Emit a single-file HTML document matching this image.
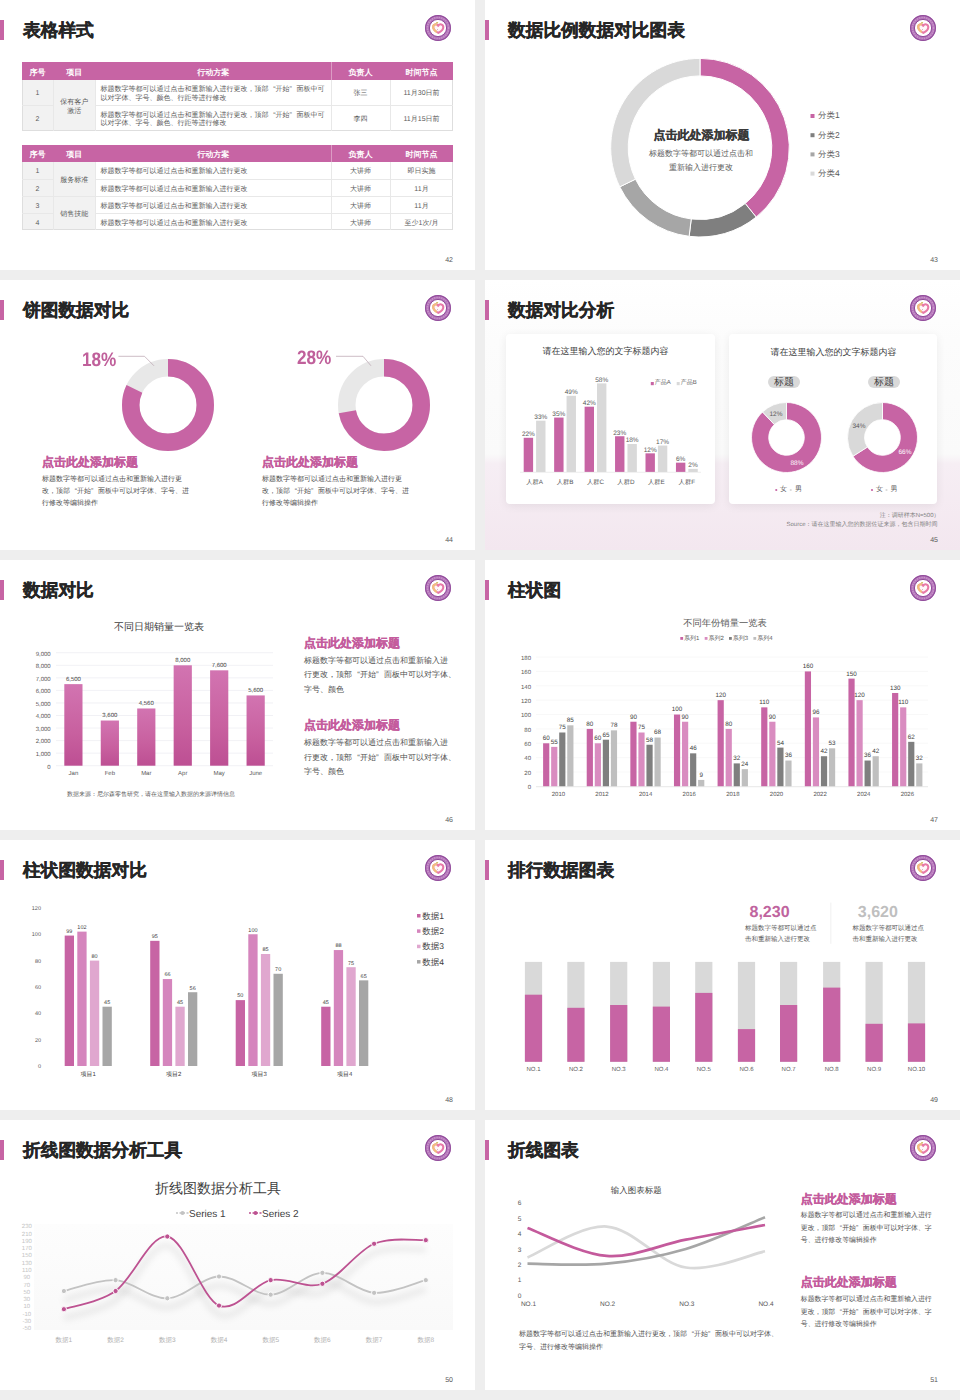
<!DOCTYPE html><html><head><meta charset="utf-8"><style>

*{margin:0;padding:0;box-sizing:border-box}
html,body{width:960px;height:1400px;overflow:hidden;background:#eeeeee;font-family:"Liberation Sans",sans-serif;color:#404040;text-rendering:geometricPrecision}
.s{position:absolute;width:475px;height:270px;background:#fff;overflow:hidden}
.bar{position:absolute;left:0;top:20px;width:4px;height:20px;background:#c764a4}
.tt{position:absolute;left:23px;top:18.2px;font-size:17.7px;line-height:24px;font-weight:bold;color:#262626;white-space:nowrap;-webkit-text-stroke:0.35px #262626}
.logo{position:absolute;left:423.4px;top:12.8px}
.pn{position:absolute;right:22px;top:257px;font-size:7px;line-height:8px;color:#595959}
.a{position:absolute;white-space:nowrap}
svg{position:absolute;left:0;top:0;overflow:visible}
.qo{display:inline-block;width:1em;text-align:right}.qc{display:inline-block;width:1em;text-align:left}

</style></head><body>
<div class="s" style="left:0px;top:0px">
<div class="a" style="left:22px;top:62px;width:431px;height:18px;background:#c764a4"></div><div class="a" style="left:-62.5px;top:67.9px;font-size:8px;color:#fff;line-height:9.6px;width:200px;text-align:center;font-weight:bold;">序号</div><div class="a" style="left:-25.75px;top:67.9px;font-size:8px;color:#fff;line-height:9.6px;width:200px;text-align:center;font-weight:bold;">项目</div><div class="a" style="left:113.25px;top:67.9px;font-size:8px;color:#fff;line-height:9.6px;width:200px;text-align:center;font-weight:bold;">行动方案</div><div class="a" style="left:260.5px;top:67.9px;font-size:8px;color:#fff;line-height:9.6px;width:200px;text-align:center;font-weight:bold;">负责人</div><div class="a" style="left:321.5px;top:67.9px;font-size:8px;color:#fff;line-height:9.6px;width:200px;text-align:center;font-weight:bold;">时间节点</div><div class="a" style="left:330.6px;top:62px;width:0.8px;height:18px;background:#dc9cc4"></div><div class="a" style="left:22px;top:80px;width:73.5px;height:50.5px;background:#f2f2f2"></div><div class="a" style="left:22px;top:80px;width:431px;height:50.5px;border:1px solid #dedede;border-top:none"></div><div class="a" style="left:52.5px;top:80px;width:1px;height:50.5px;background:#e8e8e8"></div><div class="a" style="left:95.0px;top:80px;width:1px;height:50.5px;background:#e8e8e8"></div><div class="a" style="left:330.5px;top:80px;width:1px;height:50.5px;background:#e8e8e8"></div><div class="a" style="left:389.5px;top:80px;width:1px;height:50.5px;background:#e8e8e8"></div><div class="a" style="left:22px;top:104.75px;width:31px;height:1px;background:#e8e8e8"></div><div class="a" style="left:95.5px;top:104.75px;width:357.5px;height:1px;background:#e8e8e8"></div><div class="a" style="left:-25.75px;top:98.6px;font-size:7px;color:#5a5a5a;line-height:8.4px;width:200px;text-align:center;">保有客户</div><div class="a" style="left:-25.75px;top:107.6px;font-size:7px;color:#5a5a5a;line-height:8.4px;width:200px;text-align:center;">激活</div><div class="a" style="left:-62.5px;top:90.475px;font-size:7px;color:#5a5a5a;line-height:8.4px;width:200px;text-align:center;">1</div><div class="a" style="left:100.5px;top:86.32499999999999px;font-size:7px;color:#5a5a5a;line-height:8.4px;width:200px;text-align:center;text-align:left">标题数字等都可以通过点击和重新输入进行更改，顶部<span class="qo">“</span>开始<span class="qc">”</span>面板中可</div><div class="a" style="left:100.5px;top:94.625px;font-size:7px;color:#5a5a5a;line-height:8.4px;width:200px;text-align:center;text-align:left">以对字体、字号、颜色、行距等进行修改</div><div class="a" style="left:260.5px;top:90.475px;font-size:7px;color:#5a5a5a;line-height:8.4px;width:200px;text-align:center;">张三</div><div class="a" style="left:321.5px;top:90.475px;font-size:7px;color:#5a5a5a;line-height:8.4px;width:200px;text-align:center;">11月30日前</div><div class="a" style="left:-62.5px;top:115.725px;font-size:7px;color:#5a5a5a;line-height:8.4px;width:200px;text-align:center;">2</div><div class="a" style="left:100.5px;top:111.57499999999999px;font-size:7px;color:#5a5a5a;line-height:8.4px;width:200px;text-align:center;text-align:left">标题数字等都可以通过点击和重新输入进行更改，顶部<span class="qo">“</span>开始<span class="qc">”</span>面板中可</div><div class="a" style="left:100.5px;top:119.875px;font-size:7px;color:#5a5a5a;line-height:8.4px;width:200px;text-align:center;text-align:left">以对字体、字号、颜色、行距等进行修改</div><div class="a" style="left:260.5px;top:115.725px;font-size:7px;color:#5a5a5a;line-height:8.4px;width:200px;text-align:center;">李四</div><div class="a" style="left:321.5px;top:115.725px;font-size:7px;color:#5a5a5a;line-height:8.4px;width:200px;text-align:center;">11月15日前</div><div class="a" style="left:22px;top:144.5px;width:431px;height:17.5px;background:#c764a4"></div><div class="a" style="left:-62.5px;top:150.15px;font-size:8px;color:#fff;line-height:9.6px;width:200px;text-align:center;font-weight:bold;">序号</div><div class="a" style="left:-25.75px;top:150.15px;font-size:8px;color:#fff;line-height:9.6px;width:200px;text-align:center;font-weight:bold;">项目</div><div class="a" style="left:113.25px;top:150.15px;font-size:8px;color:#fff;line-height:9.6px;width:200px;text-align:center;font-weight:bold;">行动方案</div><div class="a" style="left:260.5px;top:150.15px;font-size:8px;color:#fff;line-height:9.6px;width:200px;text-align:center;font-weight:bold;">负责人</div><div class="a" style="left:321.5px;top:150.15px;font-size:8px;color:#fff;line-height:9.6px;width:200px;text-align:center;font-weight:bold;">时间节点</div><div class="a" style="left:330.6px;top:144.5px;width:0.8px;height:17.5px;background:#dc9cc4"></div><div class="a" style="left:22px;top:162.0px;width:73.5px;height:68.4px;background:#f2f2f2"></div><div class="a" style="left:22px;top:162.0px;width:431px;height:68.4px;border:1px solid #dedede;border-top:none"></div><div class="a" style="left:52.5px;top:162.0px;width:1px;height:68.4px;background:#e8e8e8"></div><div class="a" style="left:95.0px;top:162.0px;width:1px;height:68.4px;background:#e8e8e8"></div><div class="a" style="left:330.5px;top:162.0px;width:1px;height:68.4px;background:#e8e8e8"></div><div class="a" style="left:389.5px;top:162.0px;width:1px;height:68.4px;background:#e8e8e8"></div><div class="a" style="left:22px;top:178.6px;width:31px;height:1px;background:#e8e8e8"></div><div class="a" style="left:95.5px;top:178.6px;width:357.5px;height:1px;background:#e8e8e8"></div><div class="a" style="left:22px;top:195.7px;width:31px;height:1px;background:#e8e8e8"></div><div class="a" style="left:95.5px;top:195.7px;width:357.5px;height:1px;background:#e8e8e8"></div><div class="a" style="left:22px;top:212.79999999999998px;width:31px;height:1px;background:#e8e8e8"></div><div class="a" style="left:95.5px;top:212.79999999999998px;width:357.5px;height:1px;background:#e8e8e8"></div><div class="a" style="left:-25.75px;top:176.95px;font-size:7px;color:#5a5a5a;line-height:8.4px;width:200px;text-align:center;">服务标准</div><div class="a" style="left:53px;top:195.7px;width:42.5px;height:1px;background:#e8e8e8"></div><div class="a" style="left:-25.75px;top:211.14999999999998px;font-size:7px;color:#5a5a5a;line-height:8.4px;width:200px;text-align:center;">销售技能</div><div class="a" style="left:-62.5px;top:168.4px;font-size:7px;color:#5a5a5a;line-height:8.4px;width:200px;text-align:center;">1</div><div class="a" style="left:100.5px;top:168.4px;font-size:7px;color:#5a5a5a;line-height:8.4px;width:200px;text-align:center;text-align:left">标题数字等都可以通过点击和重新输入进行更改</div><div class="a" style="left:260.5px;top:168.4px;font-size:7px;color:#5a5a5a;line-height:8.4px;width:200px;text-align:center;">大讲师</div><div class="a" style="left:321.5px;top:168.4px;font-size:7px;color:#5a5a5a;line-height:8.4px;width:200px;text-align:center;">即日实施</div><div class="a" style="left:-62.5px;top:185.49999999999997px;font-size:7px;color:#5a5a5a;line-height:8.4px;width:200px;text-align:center;">2</div><div class="a" style="left:100.5px;top:185.49999999999997px;font-size:7px;color:#5a5a5a;line-height:8.4px;width:200px;text-align:center;text-align:left">标题数字等都可以通过点击和重新输入进行更改</div><div class="a" style="left:260.5px;top:185.49999999999997px;font-size:7px;color:#5a5a5a;line-height:8.4px;width:200px;text-align:center;">大讲师</div><div class="a" style="left:321.5px;top:185.49999999999997px;font-size:7px;color:#5a5a5a;line-height:8.4px;width:200px;text-align:center;">11月</div><div class="a" style="left:-62.5px;top:202.6px;font-size:7px;color:#5a5a5a;line-height:8.4px;width:200px;text-align:center;">3</div><div class="a" style="left:100.5px;top:202.6px;font-size:7px;color:#5a5a5a;line-height:8.4px;width:200px;text-align:center;text-align:left">标题数字等都可以通过点击和重新输入进行更改</div><div class="a" style="left:260.5px;top:202.6px;font-size:7px;color:#5a5a5a;line-height:8.4px;width:200px;text-align:center;">大讲师</div><div class="a" style="left:321.5px;top:202.6px;font-size:7px;color:#5a5a5a;line-height:8.4px;width:200px;text-align:center;">11月</div><div class="a" style="left:-62.5px;top:219.69999999999996px;font-size:7px;color:#5a5a5a;line-height:8.4px;width:200px;text-align:center;">4</div><div class="a" style="left:100.5px;top:219.69999999999996px;font-size:7px;color:#5a5a5a;line-height:8.4px;width:200px;text-align:center;text-align:left">标题数字等都可以通过点击和重新输入进行更改</div><div class="a" style="left:260.5px;top:219.69999999999996px;font-size:7px;color:#5a5a5a;line-height:8.4px;width:200px;text-align:center;">大讲师</div><div class="a" style="left:321.5px;top:219.69999999999996px;font-size:7px;color:#5a5a5a;line-height:8.4px;width:200px;text-align:center;">至少1次/月</div>
<div class="bar"></div>
<div class="tt">表格样式</div>
<svg class="logo" width="30" height="30" viewBox="-15 -15 30 30">
<defs><clipPath id="lc1"><rect x="-8" y="-8" width="6.8" height="16"/></clipPath></defs>
<circle r="12.9" fill="#b274b8"/>
<circle r="12.4" fill="none" stroke="#914c9b" stroke-width="1.1"/>
<circle r="10.6" fill="none" stroke="#dcaad8" stroke-width="1.5" stroke-dasharray="1.3 1.1" opacity="0.6"/>
<circle r="8.5" fill="#fff"/>
<circle r="8.6" fill="none" stroke="#914c9b" stroke-width="1"/>
<path d="M0.2,-2.2 C-1.3,-4.6 -5,-4 -4.8,-0.8 C-4.6,1.9 -1.9,3.7 0.4,4.9 C2.6,3.7 5.3,1.8 5.3,-0.8 C5.3,-4 1.6,-4.6 0.2,-2.2 Z" fill="#fff4f8" stroke="#e87aa8" stroke-width="2.1" stroke-linejoin="round"/>
<path d="M0.2,-2.2 C-1.3,-4.6 -5,-4 -4.8,-0.8 C-4.6,1.9 -1.9,3.7 0.4,4.9" fill="none" stroke="#f2c07e" stroke-width="2.1" clip-path="url(#lc1)"/>
<path d="M-2.4,0.2 C-1.2,1.8 1.4,1.6 2.6,-0.6" fill="none" stroke="#fff" stroke-width="0.9" stroke-linecap="round"/>
<circle cx="-0.6" cy="1.6" r="0.45" fill="#9a5070"/>
<ellipse cx="-0.9" cy="-5.3" rx="1.1" ry="0.8" fill="#cdbf5c"/>
</svg>
<div class="pn">42</div>
</div>
<div class="s" style="left:485px;top:0px">
<svg width="475" height="270"><path d="M215.00,58.40 A89.3,89.3 0 0 1 271.20,217.10 L260.19,203.50 A71.8,71.8 0 0 0 215.00,75.90 Z" fill="#c764a4" stroke="#fff" stroke-width="1"/><path d="M271.20,217.10 A89.3,89.3 0 0 1 204.12,236.33 L206.25,218.96 A71.8,71.8 0 0 0 260.19,203.50 Z" fill="#7f7f7f" stroke="#fff" stroke-width="1"/><path d="M204.12,236.33 A89.3,89.3 0 0 1 134.74,186.85 L150.47,179.18 A71.8,71.8 0 0 0 206.25,218.96 Z" fill="#a6a6a6" stroke="#fff" stroke-width="1"/><path d="M134.74,186.85 A89.3,89.3 0 0 1 215.00,58.40 L215.00,75.90 A71.8,71.8 0 0 0 150.47,179.18 Z" fill="#d9d9d9" stroke="#fff" stroke-width="1"/><rect x="325.5" y="114.0" width="4" height="4" fill="#c764a4"/><rect x="325.5" y="133.2" width="4" height="4" fill="#7f7f7f"/><rect x="325.5" y="152.4" width="4" height="4" fill="#a6a6a6"/><rect x="325.5" y="171.6" width="4" height="4" fill="#d9d9d9"/></svg><div class="a" style="left:333px;top:110.4px;font-size:8.5px;color:#595959;line-height:10.2px;">分类1</div><div class="a" style="left:333px;top:129.6px;font-size:8.5px;color:#595959;line-height:10.2px;">分类2</div><div class="a" style="left:333px;top:148.8px;font-size:8.5px;color:#595959;line-height:10.2px;">分类3</div><div class="a" style="left:333px;top:168.0px;font-size:8.5px;color:#595959;line-height:10.2px;">分类4</div><div class="a" style="left:116.5px;top:128.1px;font-size:12px;color:#3a3a3a;line-height:14.399999999999999px;width:200px;text-align:center;font-weight:bold;-webkit-text-stroke:0.25px #3a3a3a">点击此处添加标题</div><div class="a" style="left:116.0px;top:148.9px;font-size:8px;color:#595959;line-height:9.6px;width:200px;text-align:center;">标题数字等都可以通过点击和</div><div class="a" style="left:116.0px;top:162.9px;font-size:8px;color:#595959;line-height:9.6px;width:200px;text-align:center;">重新输入进行更改</div>
<div class="bar"></div>
<div class="tt">数据比例数据对比图表</div>
<svg class="logo" width="30" height="30" viewBox="-15 -15 30 30">
<defs><clipPath id="lc2"><rect x="-8" y="-8" width="6.8" height="16"/></clipPath></defs>
<circle r="12.9" fill="#b274b8"/>
<circle r="12.4" fill="none" stroke="#914c9b" stroke-width="1.1"/>
<circle r="10.6" fill="none" stroke="#dcaad8" stroke-width="1.5" stroke-dasharray="1.3 1.1" opacity="0.6"/>
<circle r="8.5" fill="#fff"/>
<circle r="8.6" fill="none" stroke="#914c9b" stroke-width="1"/>
<path d="M0.2,-2.2 C-1.3,-4.6 -5,-4 -4.8,-0.8 C-4.6,1.9 -1.9,3.7 0.4,4.9 C2.6,3.7 5.3,1.8 5.3,-0.8 C5.3,-4 1.6,-4.6 0.2,-2.2 Z" fill="#fff4f8" stroke="#e87aa8" stroke-width="2.1" stroke-linejoin="round"/>
<path d="M0.2,-2.2 C-1.3,-4.6 -5,-4 -4.8,-0.8 C-4.6,1.9 -1.9,3.7 0.4,4.9" fill="none" stroke="#f2c07e" stroke-width="2.1" clip-path="url(#lc2)"/>
<path d="M-2.4,0.2 C-1.2,1.8 1.4,1.6 2.6,-0.6" fill="none" stroke="#fff" stroke-width="0.9" stroke-linecap="round"/>
<circle cx="-0.6" cy="1.6" r="0.45" fill="#9a5070"/>
<ellipse cx="-0.9" cy="-5.3" rx="1.1" ry="0.8" fill="#cdbf5c"/>
</svg>
<div class="pn">43</div>
</div>
<div class="s" style="left:0px;top:280px">
<svg width="475" height="270"><circle cx="168" cy="125" r="37.25" fill="none" stroke="#e8e8e8" stroke-width="17.5"/><circle cx="168" cy="125" r="37.25" fill="none" stroke="#c764a4" stroke-width="17.5" stroke-dasharray="191.92 234.05" transform="rotate(-90 168 125)"/><circle cx="384" cy="125" r="37.25" fill="none" stroke="#e8e8e8" stroke-width="17.5"/><circle cx="384" cy="125" r="37.25" fill="none" stroke="#c764a4" stroke-width="17.5" stroke-dasharray="168.52 234.05" transform="rotate(-90 384 125)"/><polyline points="118.4,76.3 144.5,76.3 154,85.8" fill="none" stroke="#b8a0ae" stroke-width="0.7"/><polyline points="336,76.3 363,76.3 371,85.8" fill="none" stroke="#b8a0ae" stroke-width="0.7"/></svg><div class="a" style="left:82px;top:69.3px;font-size:19.5px;color:#c0609b;line-height:22px;font-weight:bold;transform:scaleX(0.88);transform-origin:0 0">18%</div><div class="a" style="left:296.5px;top:66.5px;font-size:19.5px;color:#c0609b;line-height:22px;font-weight:bold;transform:scaleX(0.88);transform-origin:0 0">28%</div><div class="a" style="left:42px;top:175px;font-size:12px;color:#c45c9d;line-height:14px;font-weight:bold;-webkit-text-stroke:0.3px #c45c9d">点击此处添加标题</div><div class="a" style="left:42px;top:194px;font-size:7px;color:#4f4f4f;line-height:12px;">标题数字等都可以通过点击和重新输入进行更</div><div class="a" style="left:42px;top:206px;font-size:7px;color:#4f4f4f;line-height:12px;">改，顶部<span class="qo">“</span>开始<span class="qc">”</span>面板中可以对字体、字号、进</div><div class="a" style="left:42px;top:218px;font-size:7px;color:#4f4f4f;line-height:12px;">行修改等编辑操作</div><div class="a" style="left:262px;top:175px;font-size:12px;color:#c45c9d;line-height:14px;font-weight:bold;-webkit-text-stroke:0.3px #c45c9d">点击此处添加标题</div><div class="a" style="left:262px;top:194px;font-size:7px;color:#4f4f4f;line-height:12px;">标题数字等都可以通过点击和重新输入进行更</div><div class="a" style="left:262px;top:206px;font-size:7px;color:#4f4f4f;line-height:12px;">改，顶部<span class="qo">“</span>开始<span class="qc">”</span>面板中可以对字体、字号、进</div><div class="a" style="left:262px;top:218px;font-size:7px;color:#4f4f4f;line-height:12px;">行修改等编辑操作</div>
<div class="bar"></div>
<div class="tt">饼图数据对比</div>
<svg class="logo" width="30" height="30" viewBox="-15 -15 30 30">
<defs><clipPath id="lc3"><rect x="-8" y="-8" width="6.8" height="16"/></clipPath></defs>
<circle r="12.9" fill="#b274b8"/>
<circle r="12.4" fill="none" stroke="#914c9b" stroke-width="1.1"/>
<circle r="10.6" fill="none" stroke="#dcaad8" stroke-width="1.5" stroke-dasharray="1.3 1.1" opacity="0.6"/>
<circle r="8.5" fill="#fff"/>
<circle r="8.6" fill="none" stroke="#914c9b" stroke-width="1"/>
<path d="M0.2,-2.2 C-1.3,-4.6 -5,-4 -4.8,-0.8 C-4.6,1.9 -1.9,3.7 0.4,4.9 C2.6,3.7 5.3,1.8 5.3,-0.8 C5.3,-4 1.6,-4.6 0.2,-2.2 Z" fill="#fff4f8" stroke="#e87aa8" stroke-width="2.1" stroke-linejoin="round"/>
<path d="M0.2,-2.2 C-1.3,-4.6 -5,-4 -4.8,-0.8 C-4.6,1.9 -1.9,3.7 0.4,4.9" fill="none" stroke="#f2c07e" stroke-width="2.1" clip-path="url(#lc3)"/>
<path d="M-2.4,0.2 C-1.2,1.8 1.4,1.6 2.6,-0.6" fill="none" stroke="#fff" stroke-width="0.9" stroke-linecap="round"/>
<circle cx="-0.6" cy="1.6" r="0.45" fill="#9a5070"/>
<ellipse cx="-0.9" cy="-5.3" rx="1.1" ry="0.8" fill="#cdbf5c"/>
</svg>
<div class="pn">44</div>
</div>
<div class="s" style="left:485px;top:280px">
<div class="a" style="left:0;top:0;width:475px;height:270px;background:linear-gradient(180deg,#fff 0px,#fcfcfc 60px,#fafafa 174px,#f6eef4 184px,#f3e7ef 270px)"></div><div class="a" style="left:20.8px;top:54.4px;width:209.6px;height:170.1px;background:#fff;border-radius:4px;box-shadow:0 2px 10px rgba(0,0,0,0.07)"></div><div class="a" style="left:243.8px;top:53.8px;width:208.7px;height:170.0px;background:#fff;border-radius:4px;box-shadow:0 2px 10px rgba(0,0,0,0.07)"></div><svg width="475" height="270"><rect x="38.70" y="157.79" width="9.4" height="34.21" fill="#c764a4"/><rect x="51.10" y="140.69" width="9.4" height="51.31" fill="#d9d9d9"/><rect x="69.15" y="137.57" width="9.4" height="54.42" fill="#c764a4"/><rect x="81.55" y="115.81" width="9.4" height="76.19" fill="#d9d9d9"/><rect x="99.60" y="126.69" width="9.4" height="65.31" fill="#c764a4"/><rect x="112.00" y="103.37" width="9.4" height="88.63" fill="#d9d9d9"/><rect x="130.05" y="156.24" width="9.4" height="35.77" fill="#c764a4"/><rect x="142.45" y="164.01" width="9.4" height="27.99" fill="#d9d9d9"/><rect x="160.50" y="173.34" width="9.4" height="18.66" fill="#c764a4"/><rect x="172.90" y="165.56" width="9.4" height="26.43" fill="#d9d9d9"/><rect x="190.95" y="182.67" width="9.4" height="9.33" fill="#c764a4"/><rect x="203.35" y="188.89" width="9.4" height="3.11" fill="#d9d9d9"/><line x1="35" y1="192.3" x2="216" y2="192.3" stroke="#e6e6e6" stroke-width="0.7"/><rect x="165.8" y="102" width="3" height="3.2" fill="#c764a4"/><rect x="191.7" y="102" width="3" height="3.2" fill="#d9d9d9"/><path d="M301.50,122.50 A35,35 0 1 1 277.54,131.99 L289.32,144.52 A17.8,17.8 0 1 0 301.50,139.70 Z" fill="#c764a4" stroke="#fff" stroke-width="0.8"/><path d="M277.54,131.99 A35,35 0 0 1 301.49,122.50 L301.50,139.70 A17.8,17.8 0 0 0 289.32,144.52 Z" fill="#d9d9d9" stroke="#fff" stroke-width="0.8"/><path d="M397.50,122.50 A35,35 0 1 1 367.95,176.25 L382.47,167.04 A17.8,17.8 0 1 0 397.50,139.70 Z" fill="#c764a4" stroke="#fff" stroke-width="0.8"/><path d="M367.95,176.25 A35,35 0 0 1 397.49,122.50 L397.50,139.70 A17.8,17.8 0 0 0 382.47,167.04 Z" fill="#d9d9d9" stroke="#fff" stroke-width="0.8"/><circle cx="291.25" cy="210" r="1.1" fill="#c764a4"/><circle cx="305.75" cy="210" r="1.1" fill="#d9d9d9"/><circle cx="387" cy="210" r="1.1" fill="#c764a4"/><circle cx="401.5" cy="210" r="1.1" fill="#d9d9d9"/><rect x="283" y="96" width="32" height="12" rx="6" fill="#d9d9d9"/><rect x="383" y="96" width="32" height="12" rx="6" fill="#d9d9d9"/></svg><div class="a" style="left:-56.599999999999994px;top:151.11499999999998px;font-size:6.5px;color:#595959;line-height:7.8px;width:200px;text-align:center;">22%</div><div class="a" style="left:-44.199999999999996px;top:134.01px;font-size:6.5px;color:#595959;line-height:7.8px;width:200px;text-align:center;">33%</div><div class="a" style="left:-50.4px;top:199.21499999999997px;font-size:6.3px;color:#595959;line-height:7.56px;width:200px;text-align:center;">人群A</div><div class="a" style="left:-26.14999999999999px;top:130.89999999999998px;font-size:6.5px;color:#595959;line-height:7.8px;width:200px;text-align:center;">35%</div><div class="a" style="left:-13.75px;top:109.13000000000001px;font-size:6.5px;color:#595959;line-height:7.8px;width:200px;text-align:center;">49%</div><div class="a" style="left:-19.94999999999999px;top:199.21499999999997px;font-size:6.3px;color:#595959;line-height:7.56px;width:200px;text-align:center;">人群B</div><div class="a" style="left:4.299999999999997px;top:120.015px;font-size:6.5px;color:#595959;line-height:7.8px;width:200px;text-align:center;">42%</div><div class="a" style="left:16.69999999999999px;top:96.69000000000001px;font-size:6.5px;color:#595959;line-height:7.8px;width:200px;text-align:center;">58%</div><div class="a" style="left:10.5px;top:199.21499999999997px;font-size:6.3px;color:#595959;line-height:7.56px;width:200px;text-align:center;">人群C</div><div class="a" style="left:34.75px;top:149.56px;font-size:6.5px;color:#595959;line-height:7.8px;width:200px;text-align:center;">23%</div><div class="a" style="left:47.150000000000006px;top:157.33499999999998px;font-size:6.5px;color:#595959;line-height:7.8px;width:200px;text-align:center;">18%</div><div class="a" style="left:40.95000000000002px;top:199.21499999999997px;font-size:6.3px;color:#595959;line-height:7.56px;width:200px;text-align:center;">人群D</div><div class="a" style="left:65.19999999999999px;top:166.665px;font-size:6.5px;color:#595959;line-height:7.8px;width:200px;text-align:center;">12%</div><div class="a" style="left:77.6px;top:158.89px;font-size:6.5px;color:#595959;line-height:7.8px;width:200px;text-align:center;">17%</div><div class="a" style="left:71.4px;top:199.21499999999997px;font-size:6.3px;color:#595959;line-height:7.56px;width:200px;text-align:center;">人群E</div><div class="a" style="left:95.64999999999998px;top:175.99499999999998px;font-size:6.5px;color:#595959;line-height:7.8px;width:200px;text-align:center;">6%</div><div class="a" style="left:108.04999999999998px;top:182.21499999999997px;font-size:6.5px;color:#595959;line-height:7.8px;width:200px;text-align:center;">2%</div><div class="a" style="left:101.85px;top:199.21499999999997px;font-size:6.3px;color:#595959;line-height:7.56px;width:200px;text-align:center;">人群F</div><div class="a" style="left:20.5px;top:66.45px;font-size:9px;color:#404040;line-height:10.799999999999999px;width:200px;text-align:center;">请在这里输入您的文字标题内容</div><div class="a" style="left:248.5px;top:67.45px;font-size:9px;color:#404040;line-height:10.799999999999999px;width:200px;text-align:center;">请在这里输入您的文字标题内容</div><div class="a" style="left:169.8px;top:100px;font-size:6px;color:#595959;line-height:7.2px;">产品A</div><div class="a" style="left:195.8px;top:100px;font-size:6px;color:#595959;line-height:7.2px;">产品B</div><div class="a" style="left:199.0px;top:97.3px;font-size:10px;color:#404040;line-height:12.0px;width:200px;text-align:center;">标题</div><div class="a" style="left:299.0px;top:97.3px;font-size:10px;color:#404040;line-height:12.0px;width:200px;text-align:center;">标题</div><div class="a" style="left:191.0px;top:131.325px;font-size:6.5px;color:#595959;line-height:7.8px;width:200px;text-align:center;">12%</div><div class="a" style="left:212.0px;top:180.325px;font-size:6.5px;color:#fff;line-height:7.8px;width:200px;text-align:center;">88%</div><div class="a" style="left:274.0px;top:143.325px;font-size:6.5px;color:#595959;line-height:7.8px;width:200px;text-align:center;">34%</div><div class="a" style="left:320.0px;top:168.825px;font-size:6.5px;color:#fff;line-height:7.8px;width:200px;text-align:center;">66%</div><div class="a" style="left:295px;top:206px;font-size:7px;color:#595959;line-height:8.4px;">女</div><div class="a" style="left:310px;top:206px;font-size:7px;color:#595959;line-height:8.4px;">男</div><div class="a" style="left:391px;top:206px;font-size:7px;color:#595959;line-height:8.4px;">女</div><div class="a" style="left:405.5px;top:206px;font-size:7px;color:#595959;line-height:8.4px;">男</div><div class="a" style="left:54.5px;top:232.8px;font-size:6px;color:#7f7f7f;line-height:7.199999999999999px;width:400px;text-align:right;">注：调研样本N=500）</div><div class="a" style="left:52.5px;top:242.3px;font-size:6px;color:#7f7f7f;line-height:7.199999999999999px;width:400px;text-align:right;">Source：请在这里输入您的数据佐证来源，包含日期时间</div>
<div class="bar"></div>
<div class="tt">数据对比分析</div>
<svg class="logo" width="30" height="30" viewBox="-15 -15 30 30">
<defs><clipPath id="lc4"><rect x="-8" y="-8" width="6.8" height="16"/></clipPath></defs>
<circle r="12.9" fill="#b274b8"/>
<circle r="12.4" fill="none" stroke="#914c9b" stroke-width="1.1"/>
<circle r="10.6" fill="none" stroke="#dcaad8" stroke-width="1.5" stroke-dasharray="1.3 1.1" opacity="0.6"/>
<circle r="8.5" fill="#fff"/>
<circle r="8.6" fill="none" stroke="#914c9b" stroke-width="1"/>
<path d="M0.2,-2.2 C-1.3,-4.6 -5,-4 -4.8,-0.8 C-4.6,1.9 -1.9,3.7 0.4,4.9 C2.6,3.7 5.3,1.8 5.3,-0.8 C5.3,-4 1.6,-4.6 0.2,-2.2 Z" fill="#fff4f8" stroke="#e87aa8" stroke-width="2.1" stroke-linejoin="round"/>
<path d="M0.2,-2.2 C-1.3,-4.6 -5,-4 -4.8,-0.8 C-4.6,1.9 -1.9,3.7 0.4,4.9" fill="none" stroke="#f2c07e" stroke-width="2.1" clip-path="url(#lc4)"/>
<path d="M-2.4,0.2 C-1.2,1.8 1.4,1.6 2.6,-0.6" fill="none" stroke="#fff" stroke-width="0.9" stroke-linecap="round"/>
<circle cx="-0.6" cy="1.6" r="0.45" fill="#9a5070"/>
<ellipse cx="-0.9" cy="-5.3" rx="1.1" ry="0.8" fill="#cdbf5c"/>
</svg>
<div class="pn">45</div>
</div>
<div class="s" style="left:0px;top:560px">
<svg width="475" height="270"><defs><linearGradient id="g5" x1="0" y1="0" x2="0" y2="1"><stop offset="0" stop-color="#d274b1"/><stop offset="0.6" stop-color="#c8609f"/><stop offset="1" stop-color="#bd4f93"/></linearGradient></defs><line x1="56" y1="205.70" x2="273" y2="205.70" stroke="#e8e8ee" stroke-width="0.6"/><line x1="56" y1="193.15" x2="273" y2="193.15" stroke="#e8e8ee" stroke-width="0.6"/><line x1="56" y1="180.60" x2="273" y2="180.60" stroke="#e8e8ee" stroke-width="0.6"/><line x1="56" y1="168.05" x2="273" y2="168.05" stroke="#e8e8ee" stroke-width="0.6"/><line x1="56" y1="155.50" x2="273" y2="155.50" stroke="#e8e8ee" stroke-width="0.6"/><line x1="56" y1="142.95" x2="273" y2="142.95" stroke="#e8e8ee" stroke-width="0.6"/><line x1="56" y1="130.40" x2="273" y2="130.40" stroke="#e8e8ee" stroke-width="0.6"/><line x1="56" y1="117.85" x2="273" y2="117.85" stroke="#e8e8ee" stroke-width="0.6"/><line x1="56" y1="105.30" x2="273" y2="105.30" stroke="#e8e8ee" stroke-width="0.6"/><line x1="56" y1="92.75" x2="273" y2="92.75" stroke="#e8e8ee" stroke-width="0.6"/><rect x="64.30" y="124.12" width="18.2" height="81.58" fill="url(#g5)"/><rect x="100.75" y="160.52" width="18.2" height="45.18" fill="url(#g5)"/><rect x="137.20" y="148.47" width="18.2" height="57.23" fill="url(#g5)"/><rect x="173.65" y="105.30" width="18.2" height="100.40" fill="url(#g5)"/><rect x="210.10" y="110.32" width="18.2" height="95.38" fill="url(#g5)"/><rect x="246.55" y="135.42" width="18.2" height="70.28" fill="url(#g5)"/></svg><div class="a" style="left:-26.60000000000001px;top:116.92499999999998px;font-size:6px;color:#404040;line-height:7.199999999999999px;width:200px;text-align:center;">6,500</div><div class="a" style="left:-26.60000000000001px;top:211.3px;font-size:6px;color:#595959;line-height:7.199999999999999px;width:200px;text-align:center;">Jan</div><div class="a" style="left:9.849999999999994px;top:153.32px;font-size:6px;color:#404040;line-height:7.199999999999999px;width:200px;text-align:center;">3,600</div><div class="a" style="left:9.849999999999994px;top:211.3px;font-size:6px;color:#595959;line-height:7.199999999999999px;width:200px;text-align:center;">Feb</div><div class="a" style="left:46.29999999999998px;top:141.272px;font-size:6px;color:#404040;line-height:7.199999999999999px;width:200px;text-align:center;">4,560</div><div class="a" style="left:46.29999999999998px;top:211.3px;font-size:6px;color:#595959;line-height:7.199999999999999px;width:200px;text-align:center;">Mar</div><div class="a" style="left:82.75px;top:98.09999999999998px;font-size:6px;color:#404040;line-height:7.199999999999999px;width:200px;text-align:center;">8,000</div><div class="a" style="left:82.75px;top:211.3px;font-size:6px;color:#595959;line-height:7.199999999999999px;width:200px;text-align:center;">Apr</div><div class="a" style="left:119.20000000000002px;top:103.11999999999999px;font-size:6px;color:#404040;line-height:7.199999999999999px;width:200px;text-align:center;">7,600</div><div class="a" style="left:119.20000000000002px;top:211.3px;font-size:6px;color:#595959;line-height:7.199999999999999px;width:200px;text-align:center;">May</div><div class="a" style="left:155.65px;top:128.21999999999997px;font-size:6px;color:#404040;line-height:7.199999999999999px;width:200px;text-align:center;">5,600</div><div class="a" style="left:155.65px;top:211.3px;font-size:6px;color:#595959;line-height:7.199999999999999px;width:200px;text-align:center;">June</div><div class="a" style="left:-349.3px;top:204.5px;font-size:6px;color:#595959;line-height:7.199999999999999px;width:400px;text-align:right;">0</div><div class="a" style="left:-349.3px;top:191.95px;font-size:6px;color:#595959;line-height:7.199999999999999px;width:400px;text-align:right;">1,000</div><div class="a" style="left:-349.3px;top:179.4px;font-size:6px;color:#595959;line-height:7.199999999999999px;width:400px;text-align:right;">2,000</div><div class="a" style="left:-349.3px;top:166.85px;font-size:6px;color:#595959;line-height:7.199999999999999px;width:400px;text-align:right;">3,000</div><div class="a" style="left:-349.3px;top:154.3px;font-size:6px;color:#595959;line-height:7.199999999999999px;width:400px;text-align:right;">4,000</div><div class="a" style="left:-349.3px;top:141.75px;font-size:6px;color:#595959;line-height:7.199999999999999px;width:400px;text-align:right;">5,000</div><div class="a" style="left:-349.3px;top:129.2px;font-size:6px;color:#595959;line-height:7.199999999999999px;width:400px;text-align:right;">6,000</div><div class="a" style="left:-349.3px;top:116.64999999999998px;font-size:6px;color:#595959;line-height:7.199999999999999px;width:400px;text-align:right;">7,000</div><div class="a" style="left:-349.3px;top:104.09999999999998px;font-size:6px;color:#595959;line-height:7.199999999999999px;width:400px;text-align:right;">8,000</div><div class="a" style="left:-349.3px;top:91.54999999999998px;font-size:6px;color:#595959;line-height:7.199999999999999px;width:400px;text-align:right;">9,000</div><div class="a" style="left:59.0px;top:61.8px;font-size:10px;color:#404040;line-height:12.0px;width:200px;text-align:center;">不同日期销量一览表</div><div class="a" style="left:51.0px;top:231.8px;font-size:6px;color:#595959;line-height:7.199999999999999px;width:200px;text-align:center;">数据来源：尼尔森零售研究，请在这里输入数据的来源详情信息</div><div class="a" style="left:304px;top:75.9px;font-size:12px;color:#c45c9d;line-height:14px;font-weight:bold;-webkit-text-stroke:0.3px #c45c9d">点击此处添加标题</div><div class="a" style="left:304px;top:93.9px;font-size:8px;color:#4f4f4f;line-height:14.4px;">标题数字等都可以通过点击和重新输入进</div><div class="a" style="left:304px;top:108.30000000000001px;font-size:8px;color:#4f4f4f;line-height:14.4px;">行更改，顶部<span class="qo">“</span>开始<span class="qc">”</span>面板中可以对字体、</div><div class="a" style="left:304px;top:122.7px;font-size:8px;color:#4f4f4f;line-height:14.4px;">字号、颜色</div><div class="a" style="left:304px;top:158.4px;font-size:12px;color:#c45c9d;line-height:14px;font-weight:bold;-webkit-text-stroke:0.3px #c45c9d">点击此处添加标题</div><div class="a" style="left:304px;top:176.4px;font-size:8px;color:#4f4f4f;line-height:14.4px;">标题数字等都可以通过点击和重新输入进</div><div class="a" style="left:304px;top:190.8px;font-size:8px;color:#4f4f4f;line-height:14.4px;">行更改，顶部<span class="qo">“</span>开始<span class="qc">”</span>面板中可以对字体、</div><div class="a" style="left:304px;top:205.2px;font-size:8px;color:#4f4f4f;line-height:14.4px;">字号、颜色</div>
<div class="bar"></div>
<div class="tt">数据对比</div>
<svg class="logo" width="30" height="30" viewBox="-15 -15 30 30">
<defs><clipPath id="lc5"><rect x="-8" y="-8" width="6.8" height="16"/></clipPath></defs>
<circle r="12.9" fill="#b274b8"/>
<circle r="12.4" fill="none" stroke="#914c9b" stroke-width="1.1"/>
<circle r="10.6" fill="none" stroke="#dcaad8" stroke-width="1.5" stroke-dasharray="1.3 1.1" opacity="0.6"/>
<circle r="8.5" fill="#fff"/>
<circle r="8.6" fill="none" stroke="#914c9b" stroke-width="1"/>
<path d="M0.2,-2.2 C-1.3,-4.6 -5,-4 -4.8,-0.8 C-4.6,1.9 -1.9,3.7 0.4,4.9 C2.6,3.7 5.3,1.8 5.3,-0.8 C5.3,-4 1.6,-4.6 0.2,-2.2 Z" fill="#fff4f8" stroke="#e87aa8" stroke-width="2.1" stroke-linejoin="round"/>
<path d="M0.2,-2.2 C-1.3,-4.6 -5,-4 -4.8,-0.8 C-4.6,1.9 -1.9,3.7 0.4,4.9" fill="none" stroke="#f2c07e" stroke-width="2.1" clip-path="url(#lc5)"/>
<path d="M-2.4,0.2 C-1.2,1.8 1.4,1.6 2.6,-0.6" fill="none" stroke="#fff" stroke-width="0.9" stroke-linecap="round"/>
<circle cx="-0.6" cy="1.6" r="0.45" fill="#9a5070"/>
<ellipse cx="-0.9" cy="-5.3" rx="1.1" ry="0.8" fill="#cdbf5c"/>
</svg>
<div class="pn">46</div>
</div>
<div class="s" style="left:485px;top:560px">
<svg width="475" height="270"><line x1="51" y1="212.03" x2="443" y2="212.03" stroke="#f4f4f4" stroke-width="0.6"/><line x1="51" y1="197.66" x2="443" y2="197.66" stroke="#f4f4f4" stroke-width="0.6"/><line x1="51" y1="183.28" x2="443" y2="183.28" stroke="#f4f4f4" stroke-width="0.6"/><line x1="51" y1="168.91" x2="443" y2="168.91" stroke="#f4f4f4" stroke-width="0.6"/><line x1="51" y1="154.54" x2="443" y2="154.54" stroke="#f4f4f4" stroke-width="0.6"/><line x1="51" y1="140.17" x2="443" y2="140.17" stroke="#f4f4f4" stroke-width="0.6"/><line x1="51" y1="125.80" x2="443" y2="125.80" stroke="#f4f4f4" stroke-width="0.6"/><line x1="51" y1="111.42" x2="443" y2="111.42" stroke="#f4f4f4" stroke-width="0.6"/><line x1="51" y1="97.05" x2="443" y2="97.05" stroke="#f4f4f4" stroke-width="0.6"/><rect x="58.10" y="183.28" width="6.2" height="43.12" fill="#c764a4"/><rect x="66.15" y="186.88" width="6.2" height="39.52" fill="#d98cc0"/><rect x="74.20" y="172.50" width="6.2" height="53.90" fill="#7f7f7f"/><rect x="82.25" y="165.32" width="6.2" height="61.08" fill="#bfbfbf"/><rect x="101.72" y="168.91" width="6.2" height="57.49" fill="#c764a4"/><rect x="109.77" y="183.28" width="6.2" height="43.12" fill="#d98cc0"/><rect x="117.82" y="179.69" width="6.2" height="46.71" fill="#7f7f7f"/><rect x="125.87" y="170.35" width="6.2" height="56.05" fill="#bfbfbf"/><rect x="145.34" y="161.73" width="6.2" height="64.67" fill="#c764a4"/><rect x="153.39" y="172.50" width="6.2" height="53.90" fill="#d98cc0"/><rect x="161.44" y="184.72" width="6.2" height="41.68" fill="#7f7f7f"/><rect x="169.49" y="177.54" width="6.2" height="48.86" fill="#bfbfbf"/><rect x="188.96" y="154.54" width="6.2" height="71.86" fill="#c764a4"/><rect x="197.01" y="161.73" width="6.2" height="64.67" fill="#d98cc0"/><rect x="205.06" y="193.34" width="6.2" height="33.06" fill="#7f7f7f"/><rect x="213.11" y="219.93" width="6.2" height="6.47" fill="#bfbfbf"/><rect x="232.58" y="140.17" width="6.2" height="86.23" fill="#c764a4"/><rect x="240.63" y="168.91" width="6.2" height="57.49" fill="#d98cc0"/><rect x="248.68" y="203.40" width="6.2" height="23.00" fill="#7f7f7f"/><rect x="256.73" y="209.15" width="6.2" height="17.25" fill="#bfbfbf"/><rect x="276.20" y="147.35" width="6.2" height="79.05" fill="#c764a4"/><rect x="284.25" y="161.73" width="6.2" height="64.67" fill="#d98cc0"/><rect x="292.30" y="187.60" width="6.2" height="38.80" fill="#7f7f7f"/><rect x="300.35" y="200.53" width="6.2" height="25.87" fill="#bfbfbf"/><rect x="319.82" y="111.42" width="6.2" height="114.98" fill="#c764a4"/><rect x="327.87" y="157.41" width="6.2" height="68.99" fill="#d98cc0"/><rect x="335.92" y="196.22" width="6.2" height="30.18" fill="#7f7f7f"/><rect x="343.97" y="188.31" width="6.2" height="38.09" fill="#bfbfbf"/><rect x="363.44" y="118.61" width="6.2" height="107.79" fill="#c764a4"/><rect x="371.49" y="140.17" width="6.2" height="86.23" fill="#d98cc0"/><rect x="379.54" y="200.53" width="6.2" height="25.87" fill="#7f7f7f"/><rect x="387.59" y="196.22" width="6.2" height="30.18" fill="#bfbfbf"/><rect x="407.06" y="132.98" width="6.2" height="93.42" fill="#c764a4"/><rect x="415.11" y="147.35" width="6.2" height="79.05" fill="#d98cc0"/><rect x="423.16" y="181.85" width="6.2" height="44.55" fill="#7f7f7f"/><rect x="431.21" y="203.40" width="6.2" height="23.00" fill="#bfbfbf"/><line x1="51" y1="226.70000000000002" x2="443" y2="226.70000000000002" stroke="#d9d9d9" stroke-width="0.6"/><rect x="195.3" y="77" width="2.8" height="2.8" fill="#c764a4"/><rect x="219.7" y="77" width="2.8" height="2.8" fill="#d98cc0"/><rect x="244" y="77" width="2.8" height="2.8" fill="#7f7f7f"/><rect x="268.4" y="77" width="2.8" height="2.8" fill="#bfbfbf"/></svg><div class="a" style="left:-38.8px;top:175.19899999999998px;font-size:6.3px;color:#404040;line-height:7.56px;width:200px;text-align:center;">60</div><div class="a" style="left:-30.75px;top:178.792px;font-size:6.3px;color:#404040;line-height:7.56px;width:200px;text-align:center;">55</div><div class="a" style="left:-22.700000000000003px;top:164.42px;font-size:6.3px;color:#404040;line-height:7.56px;width:200px;text-align:center;">75</div><div class="a" style="left:-14.650000000000006px;top:157.234px;font-size:6.3px;color:#404040;line-height:7.56px;width:200px;text-align:center;">85</div><div class="a" style="left:-26.599999999999994px;top:231.5px;font-size:6px;color:#595959;line-height:7.199999999999999px;width:200px;text-align:center;">2010</div><div class="a" style="left:4.819999999999993px;top:160.827px;font-size:6.3px;color:#404040;line-height:7.56px;width:200px;text-align:center;">80</div><div class="a" style="left:12.86999999999999px;top:175.19899999999998px;font-size:6.3px;color:#404040;line-height:7.56px;width:200px;text-align:center;">60</div><div class="a" style="left:20.919999999999987px;top:171.606px;font-size:6.3px;color:#404040;line-height:7.56px;width:200px;text-align:center;">65</div><div class="a" style="left:28.97px;top:162.2642px;font-size:6.3px;color:#404040;line-height:7.56px;width:200px;text-align:center;">78</div><div class="a" style="left:17.019999999999996px;top:231.5px;font-size:6px;color:#595959;line-height:7.199999999999999px;width:200px;text-align:center;">2012</div><div class="a" style="left:48.44px;top:153.641px;font-size:6.3px;color:#404040;line-height:7.56px;width:200px;text-align:center;">90</div><div class="a" style="left:56.49000000000001px;top:164.42px;font-size:6.3px;color:#404040;line-height:7.56px;width:200px;text-align:center;">75</div><div class="a" style="left:64.53999999999999px;top:176.6362px;font-size:6.3px;color:#404040;line-height:7.56px;width:200px;text-align:center;">58</div><div class="a" style="left:72.59px;top:169.4502px;font-size:6.3px;color:#404040;line-height:7.56px;width:200px;text-align:center;">68</div><div class="a" style="left:60.640000000000015px;top:231.5px;font-size:6px;color:#595959;line-height:7.199999999999999px;width:200px;text-align:center;">2014</div><div class="a" style="left:92.05999999999997px;top:146.455px;font-size:6.3px;color:#404040;line-height:7.56px;width:200px;text-align:center;">100</div><div class="a" style="left:100.10999999999999px;top:153.641px;font-size:6.3px;color:#404040;line-height:7.56px;width:200px;text-align:center;">90</div><div class="a" style="left:108.15999999999997px;top:185.2594px;font-size:6.3px;color:#404040;line-height:7.56px;width:200px;text-align:center;">46</div><div class="a" style="left:116.20999999999998px;top:211.8476px;font-size:6.3px;color:#404040;line-height:7.56px;width:200px;text-align:center;">9</div><div class="a" style="left:104.25999999999999px;top:231.5px;font-size:6px;color:#595959;line-height:7.199999999999999px;width:200px;text-align:center;">2016</div><div class="a" style="left:135.67999999999998px;top:132.083px;font-size:6.3px;color:#404040;line-height:7.56px;width:200px;text-align:center;">120</div><div class="a" style="left:143.73px;top:160.827px;font-size:6.3px;color:#404040;line-height:7.56px;width:200px;text-align:center;">80</div><div class="a" style="left:151.77999999999997px;top:195.3198px;font-size:6.3px;color:#404040;line-height:7.56px;width:200px;text-align:center;">32</div><div class="a" style="left:159.82999999999998px;top:201.0686px;font-size:6.3px;color:#404040;line-height:7.56px;width:200px;text-align:center;">24</div><div class="a" style="left:147.88px;top:231.5px;font-size:6px;color:#595959;line-height:7.199999999999999px;width:200px;text-align:center;">2018</div><div class="a" style="left:179.3px;top:139.26899999999998px;font-size:6.3px;color:#404040;line-height:7.56px;width:200px;text-align:center;">110</div><div class="a" style="left:187.35000000000002px;top:153.641px;font-size:6.3px;color:#404040;line-height:7.56px;width:200px;text-align:center;">90</div><div class="a" style="left:195.40000000000003px;top:179.51059999999998px;font-size:6.3px;color:#404040;line-height:7.56px;width:200px;text-align:center;">54</div><div class="a" style="left:203.45px;top:192.4454px;font-size:6.3px;color:#404040;line-height:7.56px;width:200px;text-align:center;">36</div><div class="a" style="left:191.5px;top:231.5px;font-size:6px;color:#595959;line-height:7.199999999999999px;width:200px;text-align:center;">2020</div><div class="a" style="left:222.92000000000002px;top:103.33900000000001px;font-size:6.3px;color:#404040;line-height:7.56px;width:200px;text-align:center;">160</div><div class="a" style="left:230.97000000000003px;top:149.3294px;font-size:6.3px;color:#404040;line-height:7.56px;width:200px;text-align:center;">96</div><div class="a" style="left:239.02000000000004px;top:188.1338px;font-size:6.3px;color:#404040;line-height:7.56px;width:200px;text-align:center;">42</div><div class="a" style="left:247.07px;top:180.2292px;font-size:6.3px;color:#404040;line-height:7.56px;width:200px;text-align:center;">53</div><div class="a" style="left:235.12px;top:231.5px;font-size:6px;color:#595959;line-height:7.199999999999999px;width:200px;text-align:center;">2022</div><div class="a" style="left:266.54px;top:110.525px;font-size:6.3px;color:#404040;line-height:7.56px;width:200px;text-align:center;">150</div><div class="a" style="left:274.59000000000003px;top:132.083px;font-size:6.3px;color:#404040;line-height:7.56px;width:200px;text-align:center;">120</div><div class="a" style="left:282.64000000000004px;top:192.4454px;font-size:6.3px;color:#404040;line-height:7.56px;width:200px;text-align:center;">36</div><div class="a" style="left:290.69px;top:188.1338px;font-size:6.3px;color:#404040;line-height:7.56px;width:200px;text-align:center;">42</div><div class="a" style="left:278.74px;top:231.5px;font-size:6px;color:#595959;line-height:7.199999999999999px;width:200px;text-align:center;">2024</div><div class="a" style="left:310.16px;top:124.897px;font-size:6.3px;color:#404040;line-height:7.56px;width:200px;text-align:center;">130</div><div class="a" style="left:318.21000000000004px;top:139.26899999999998px;font-size:6.3px;color:#404040;line-height:7.56px;width:200px;text-align:center;">110</div><div class="a" style="left:326.26000000000005px;top:173.7618px;font-size:6.3px;color:#404040;line-height:7.56px;width:200px;text-align:center;">62</div><div class="a" style="left:334.31px;top:195.3198px;font-size:6.3px;color:#404040;line-height:7.56px;width:200px;text-align:center;">32</div><div class="a" style="left:322.36px;top:231.5px;font-size:6px;color:#595959;line-height:7.199999999999999px;width:200px;text-align:center;">2026</div><div class="a" style="left:-354px;top:225.20000000000002px;font-size:6px;color:#595959;line-height:7.199999999999999px;width:400px;text-align:right;">0</div><div class="a" style="left:-354px;top:210.82800000000003px;font-size:6px;color:#595959;line-height:7.199999999999999px;width:400px;text-align:right;">20</div><div class="a" style="left:-354px;top:196.45600000000002px;font-size:6px;color:#595959;line-height:7.199999999999999px;width:400px;text-align:right;">40</div><div class="a" style="left:-354px;top:182.084px;font-size:6px;color:#595959;line-height:7.199999999999999px;width:400px;text-align:right;">60</div><div class="a" style="left:-354px;top:167.71200000000002px;font-size:6px;color:#595959;line-height:7.199999999999999px;width:400px;text-align:right;">80</div><div class="a" style="left:-354px;top:153.34000000000003px;font-size:6px;color:#595959;line-height:7.199999999999999px;width:400px;text-align:right;">100</div><div class="a" style="left:-354px;top:138.96800000000002px;font-size:6px;color:#595959;line-height:7.199999999999999px;width:400px;text-align:right;">120</div><div class="a" style="left:-354px;top:124.596px;font-size:6px;color:#595959;line-height:7.199999999999999px;width:400px;text-align:right;">140</div><div class="a" style="left:-354px;top:110.224px;font-size:6px;color:#595959;line-height:7.199999999999999px;width:400px;text-align:right;">160</div><div class="a" style="left:-354px;top:95.85199999999999px;font-size:6px;color:#595959;line-height:7.199999999999999px;width:400px;text-align:right;">180</div><div class="a" style="left:140.0px;top:58.464999999999996px;font-size:9.3px;color:#595959;line-height:11.16px;width:200px;text-align:center;">不同年份销量一览表</div><div class="a" style="left:199.10000000000002px;top:76.3px;font-size:6px;color:#595959;line-height:7.2px;">系列1</div><div class="a" style="left:223.5px;top:76.3px;font-size:6px;color:#595959;line-height:7.2px;">系列2</div><div class="a" style="left:247.8px;top:76.3px;font-size:6px;color:#595959;line-height:7.2px;">系列3</div><div class="a" style="left:272.2px;top:76.3px;font-size:6px;color:#595959;line-height:7.2px;">系列4</div>
<div class="bar"></div>
<div class="tt">柱状图</div>
<svg class="logo" width="30" height="30" viewBox="-15 -15 30 30">
<defs><clipPath id="lc6"><rect x="-8" y="-8" width="6.8" height="16"/></clipPath></defs>
<circle r="12.9" fill="#b274b8"/>
<circle r="12.4" fill="none" stroke="#914c9b" stroke-width="1.1"/>
<circle r="10.6" fill="none" stroke="#dcaad8" stroke-width="1.5" stroke-dasharray="1.3 1.1" opacity="0.6"/>
<circle r="8.5" fill="#fff"/>
<circle r="8.6" fill="none" stroke="#914c9b" stroke-width="1"/>
<path d="M0.2,-2.2 C-1.3,-4.6 -5,-4 -4.8,-0.8 C-4.6,1.9 -1.9,3.7 0.4,4.9 C2.6,3.7 5.3,1.8 5.3,-0.8 C5.3,-4 1.6,-4.6 0.2,-2.2 Z" fill="#fff4f8" stroke="#e87aa8" stroke-width="2.1" stroke-linejoin="round"/>
<path d="M0.2,-2.2 C-1.3,-4.6 -5,-4 -4.8,-0.8 C-4.6,1.9 -1.9,3.7 0.4,4.9" fill="none" stroke="#f2c07e" stroke-width="2.1" clip-path="url(#lc6)"/>
<path d="M-2.4,0.2 C-1.2,1.8 1.4,1.6 2.6,-0.6" fill="none" stroke="#fff" stroke-width="0.9" stroke-linecap="round"/>
<circle cx="-0.6" cy="1.6" r="0.45" fill="#9a5070"/>
<ellipse cx="-0.9" cy="-5.3" rx="1.1" ry="0.8" fill="#cdbf5c"/>
</svg>
<div class="pn">47</div>
</div>
<div class="s" style="left:0px;top:840px">
<svg width="475" height="270"><rect x="64.70" y="95.57" width="9.3" height="130.43" fill="#c764a4"/><rect x="77.30" y="91.62" width="9.3" height="134.38" fill="#d585bd"/><rect x="89.90" y="120.60" width="9.3" height="105.40" fill="#e0a7cf"/><rect x="102.50" y="166.71" width="9.3" height="59.29" fill="#a6a6a6"/><rect x="150.20" y="100.84" width="9.3" height="125.16" fill="#c764a4"/><rect x="162.80" y="139.05" width="9.3" height="86.95" fill="#d585bd"/><rect x="175.40" y="166.71" width="9.3" height="59.29" fill="#e0a7cf"/><rect x="188.00" y="152.22" width="9.3" height="73.78" fill="#a6a6a6"/><rect x="235.70" y="160.12" width="9.3" height="65.88" fill="#c764a4"/><rect x="248.30" y="94.25" width="9.3" height="131.75" fill="#d585bd"/><rect x="260.90" y="114.01" width="9.3" height="111.99" fill="#e0a7cf"/><rect x="273.50" y="133.78" width="9.3" height="92.22" fill="#a6a6a6"/><rect x="321.20" y="166.71" width="9.3" height="59.29" fill="#c764a4"/><rect x="333.80" y="110.06" width="9.3" height="115.94" fill="#d585bd"/><rect x="346.40" y="127.19" width="9.3" height="98.81" fill="#e0a7cf"/><rect x="359.00" y="140.36" width="9.3" height="85.64" fill="#a6a6a6"/><rect x="417" y="74.00" width="3.5" height="3.5" fill="#c764a4"/><rect x="417" y="89.35" width="3.5" height="3.5" fill="#d585bd"/><rect x="417" y="104.70" width="3.5" height="3.5" fill="#e0a7cf"/><rect x="417" y="120.05" width="3.5" height="3.5" fill="#a6a6a6"/></svg><div class="a" style="left:-30.64999999999999px;top:88.89250000000003px;font-size:5.5px;color:#404040;line-height:6.6px;width:200px;text-align:center;">99</div><div class="a" style="left:-18.049999999999997px;top:84.94000000000001px;font-size:5.5px;color:#404040;line-height:6.6px;width:200px;text-align:center;">102</div><div class="a" style="left:-5.449999999999989px;top:113.92500000000001px;font-size:5.5px;color:#404040;line-height:6.6px;width:200px;text-align:center;">80</div><div class="a" style="left:7.150000000000006px;top:160.03750000000002px;font-size:5.5px;color:#404040;line-height:6.6px;width:200px;text-align:center;">45</div><div class="a" style="left:-11.799999999999997px;top:232.10000000000002px;font-size:6px;color:#404040;line-height:7.199999999999999px;width:200px;text-align:center;">项目1</div><div class="a" style="left:54.849999999999994px;top:94.16250000000001px;font-size:5.5px;color:#404040;line-height:6.6px;width:200px;text-align:center;">95</div><div class="a" style="left:67.44999999999999px;top:132.37000000000003px;font-size:5.5px;color:#404040;line-height:6.6px;width:200px;text-align:center;">66</div><div class="a" style="left:80.04999999999998px;top:160.03750000000002px;font-size:5.5px;color:#404040;line-height:6.6px;width:200px;text-align:center;">45</div><div class="a" style="left:92.65px;top:145.54500000000002px;font-size:5.5px;color:#404040;line-height:6.6px;width:200px;text-align:center;">56</div><div class="a" style="left:73.69999999999999px;top:232.10000000000002px;font-size:6px;color:#404040;line-height:7.199999999999999px;width:200px;text-align:center;">项目2</div><div class="a" style="left:140.35px;top:153.45000000000002px;font-size:5.5px;color:#404040;line-height:6.6px;width:200px;text-align:center;">50</div><div class="a" style="left:152.95px;top:87.575px;font-size:5.5px;color:#404040;line-height:6.6px;width:200px;text-align:center;">100</div><div class="a" style="left:165.54999999999995px;top:107.3375px;font-size:5.5px;color:#404040;line-height:6.6px;width:200px;text-align:center;">85</div><div class="a" style="left:178.14999999999998px;top:127.10000000000002px;font-size:5.5px;color:#404040;line-height:6.6px;width:200px;text-align:center;">70</div><div class="a" style="left:159.2px;top:232.10000000000002px;font-size:6px;color:#404040;line-height:7.199999999999999px;width:200px;text-align:center;">项目3</div><div class="a" style="left:225.84999999999997px;top:160.03750000000002px;font-size:5.5px;color:#404040;line-height:6.6px;width:200px;text-align:center;">45</div><div class="a" style="left:238.45px;top:103.385px;font-size:5.5px;color:#404040;line-height:6.6px;width:200px;text-align:center;">88</div><div class="a" style="left:251.04999999999995px;top:120.51250000000002px;font-size:5.5px;color:#404040;line-height:6.6px;width:200px;text-align:center;">75</div><div class="a" style="left:263.65px;top:133.68750000000003px;font-size:5.5px;color:#404040;line-height:6.6px;width:200px;text-align:center;">65</div><div class="a" style="left:244.7px;top:232.10000000000002px;font-size:6px;color:#404040;line-height:7.199999999999999px;width:200px;text-align:center;">项目4</div><div class="a" style="left:-359px;top:224.025px;font-size:5.5px;color:#595959;line-height:6.6px;width:400px;text-align:right;">0</div><div class="a" style="left:-359px;top:197.675px;font-size:5.5px;color:#595959;line-height:6.6px;width:400px;text-align:right;">20</div><div class="a" style="left:-359px;top:171.32500000000002px;font-size:5.5px;color:#595959;line-height:6.6px;width:400px;text-align:right;">40</div><div class="a" style="left:-359px;top:144.975px;font-size:5.5px;color:#595959;line-height:6.6px;width:400px;text-align:right;">60</div><div class="a" style="left:-359px;top:118.62500000000001px;font-size:5.5px;color:#595959;line-height:6.6px;width:400px;text-align:right;">80</div><div class="a" style="left:-359px;top:92.275px;font-size:5.5px;color:#595959;line-height:6.6px;width:400px;text-align:right;">100</div><div class="a" style="left:-359px;top:65.92500000000001px;font-size:5.5px;color:#595959;line-height:6.6px;width:400px;text-align:right;">120</div><div class="a" style="left:422.3px;top:70.65px;font-size:8.5px;color:#404040;line-height:10.2px;">数据1</div><div class="a" style="left:422.3px;top:86.0px;font-size:8.5px;color:#404040;line-height:10.2px;">数据2</div><div class="a" style="left:422.3px;top:101.35000000000001px;font-size:8.5px;color:#404040;line-height:10.2px;">数据3</div><div class="a" style="left:422.3px;top:116.7px;font-size:8.5px;color:#404040;line-height:10.2px;">数据4</div>
<div class="bar"></div>
<div class="tt">柱状图数据对比</div>
<svg class="logo" width="30" height="30" viewBox="-15 -15 30 30">
<defs><clipPath id="lc7"><rect x="-8" y="-8" width="6.8" height="16"/></clipPath></defs>
<circle r="12.9" fill="#b274b8"/>
<circle r="12.4" fill="none" stroke="#914c9b" stroke-width="1.1"/>
<circle r="10.6" fill="none" stroke="#dcaad8" stroke-width="1.5" stroke-dasharray="1.3 1.1" opacity="0.6"/>
<circle r="8.5" fill="#fff"/>
<circle r="8.6" fill="none" stroke="#914c9b" stroke-width="1"/>
<path d="M0.2,-2.2 C-1.3,-4.6 -5,-4 -4.8,-0.8 C-4.6,1.9 -1.9,3.7 0.4,4.9 C2.6,3.7 5.3,1.8 5.3,-0.8 C5.3,-4 1.6,-4.6 0.2,-2.2 Z" fill="#fff4f8" stroke="#e87aa8" stroke-width="2.1" stroke-linejoin="round"/>
<path d="M0.2,-2.2 C-1.3,-4.6 -5,-4 -4.8,-0.8 C-4.6,1.9 -1.9,3.7 0.4,4.9" fill="none" stroke="#f2c07e" stroke-width="2.1" clip-path="url(#lc7)"/>
<path d="M-2.4,0.2 C-1.2,1.8 1.4,1.6 2.6,-0.6" fill="none" stroke="#fff" stroke-width="0.9" stroke-linecap="round"/>
<circle cx="-0.6" cy="1.6" r="0.45" fill="#9a5070"/>
<ellipse cx="-0.9" cy="-5.3" rx="1.1" ry="0.8" fill="#cdbf5c"/>
</svg>
<div class="pn">48</div>
</div>
<div class="s" style="left:485px;top:840px">
<svg width="475" height="270"><rect x="39.90" y="121.9" width="17.2" height="99.90" fill="#d9d9d9"/><rect x="39.90" y="154.70" width="17.2" height="67.10" fill="#c764a4"/><rect x="82.30" y="121.9" width="17.2" height="99.90" fill="#d9d9d9"/><rect x="82.30" y="167.80" width="17.2" height="54.00" fill="#c764a4"/><rect x="125.10" y="121.9" width="17.2" height="99.90" fill="#d9d9d9"/><rect x="125.10" y="165.00" width="17.2" height="56.80" fill="#c764a4"/><rect x="167.80" y="121.9" width="17.2" height="99.90" fill="#d9d9d9"/><rect x="167.80" y="166.60" width="17.2" height="55.20" fill="#c764a4"/><rect x="210.20" y="121.9" width="17.2" height="99.90" fill="#d9d9d9"/><rect x="210.20" y="152.90" width="17.2" height="68.90" fill="#c764a4"/><rect x="252.90" y="121.9" width="17.2" height="99.90" fill="#d9d9d9"/><rect x="252.90" y="189.10" width="17.2" height="32.70" fill="#c764a4"/><rect x="295.00" y="121.9" width="17.2" height="99.90" fill="#d9d9d9"/><rect x="295.00" y="165.00" width="17.2" height="56.80" fill="#c764a4"/><rect x="338.10" y="121.9" width="17.2" height="99.90" fill="#d9d9d9"/><rect x="338.10" y="147.60" width="17.2" height="74.20" fill="#c764a4"/><rect x="380.50" y="121.9" width="17.2" height="99.90" fill="#d9d9d9"/><rect x="380.50" y="183.80" width="17.2" height="38.00" fill="#c764a4"/><rect x="422.90" y="121.9" width="17.2" height="99.90" fill="#d9d9d9"/><rect x="422.90" y="183.40" width="17.2" height="38.40" fill="#c764a4"/><line x1="345.8" y1="62.6" x2="345.8" y2="103.8" stroke="#ececec" stroke-width="0.8"/></svg><div class="a" style="left:-51.50000000000002px;top:226.60000000000002px;font-size:6px;color:#595959;line-height:7.199999999999999px;width:200px;text-align:center;">NO.1</div><div class="a" style="left:-9.100000000000051px;top:226.60000000000002px;font-size:6px;color:#595959;line-height:7.199999999999999px;width:200px;text-align:center;">NO.2</div><div class="a" style="left:33.70000000000002px;top:226.60000000000002px;font-size:6px;color:#595959;line-height:7.199999999999999px;width:200px;text-align:center;">NO.3</div><div class="a" style="left:76.39999999999995px;top:226.60000000000002px;font-size:6px;color:#595959;line-height:7.199999999999999px;width:200px;text-align:center;">NO.4</div><div class="a" style="left:118.80000000000004px;top:226.60000000000002px;font-size:6px;color:#595959;line-height:7.199999999999999px;width:200px;text-align:center;">NO.5</div><div class="a" style="left:161.5px;top:226.60000000000002px;font-size:6px;color:#595959;line-height:7.199999999999999px;width:200px;text-align:center;">NO.6</div><div class="a" style="left:203.60000000000002px;top:226.60000000000002px;font-size:6px;color:#595959;line-height:7.199999999999999px;width:200px;text-align:center;">NO.7</div><div class="a" style="left:246.70000000000005px;top:226.60000000000002px;font-size:6px;color:#595959;line-height:7.199999999999999px;width:200px;text-align:center;">NO.8</div><div class="a" style="left:289.1px;top:226.60000000000002px;font-size:6px;color:#595959;line-height:7.199999999999999px;width:200px;text-align:center;">NO.9</div><div class="a" style="left:331.5px;top:226.60000000000002px;font-size:6px;color:#595959;line-height:7.199999999999999px;width:200px;text-align:center;">NO.10</div><div class="a" style="left:264.5px;top:63.6px;font-size:16px;color:#c0649e;line-height:18px;font-weight:bold;">8,230</div><div class="a" style="left:372.8px;top:63.6px;font-size:16px;color:#bfbfbf;line-height:18px;font-weight:bold;">3,620</div><div class="a" style="left:259.9px;top:82.8px;font-size:6.5px;color:#595959;line-height:11px;">标题数字等都可以通过点</div><div class="a" style="left:259.9px;top:94.2px;font-size:6.5px;color:#595959;line-height:11px;">击和重新输入进行更改</div><div class="a" style="left:367.6px;top:82.8px;font-size:6.5px;color:#595959;line-height:11px;">标题数字等都可以通过点</div><div class="a" style="left:367.6px;top:94.2px;font-size:6.5px;color:#595959;line-height:11px;">击和重新输入进行更改</div>
<div class="bar"></div>
<div class="tt">排行数据图表</div>
<svg class="logo" width="30" height="30" viewBox="-15 -15 30 30">
<defs><clipPath id="lc8"><rect x="-8" y="-8" width="6.8" height="16"/></clipPath></defs>
<circle r="12.9" fill="#b274b8"/>
<circle r="12.4" fill="none" stroke="#914c9b" stroke-width="1.1"/>
<circle r="10.6" fill="none" stroke="#dcaad8" stroke-width="1.5" stroke-dasharray="1.3 1.1" opacity="0.6"/>
<circle r="8.5" fill="#fff"/>
<circle r="8.6" fill="none" stroke="#914c9b" stroke-width="1"/>
<path d="M0.2,-2.2 C-1.3,-4.6 -5,-4 -4.8,-0.8 C-4.6,1.9 -1.9,3.7 0.4,4.9 C2.6,3.7 5.3,1.8 5.3,-0.8 C5.3,-4 1.6,-4.6 0.2,-2.2 Z" fill="#fff4f8" stroke="#e87aa8" stroke-width="2.1" stroke-linejoin="round"/>
<path d="M0.2,-2.2 C-1.3,-4.6 -5,-4 -4.8,-0.8 C-4.6,1.9 -1.9,3.7 0.4,4.9" fill="none" stroke="#f2c07e" stroke-width="2.1" clip-path="url(#lc8)"/>
<path d="M-2.4,0.2 C-1.2,1.8 1.4,1.6 2.6,-0.6" fill="none" stroke="#fff" stroke-width="0.9" stroke-linecap="round"/>
<circle cx="-0.6" cy="1.6" r="0.45" fill="#9a5070"/>
<ellipse cx="-0.9" cy="-5.3" rx="1.1" ry="0.8" fill="#cdbf5c"/>
</svg>
<div class="pn">49</div>
</div>
<div class="s" style="left:0px;top:1120px">
<svg width="475" height="270"><defs><filter id="sh9" x="-20%" y="-50%" width="140%" height="200%"><feGaussianBlur stdDeviation="3"/></filter><linearGradient id="bg9" x1="0" y1="0" x2="0" y2="1"><stop offset="0" stop-color="#fdfdfd"/><stop offset="1" stop-color="#f9f9f9"/></linearGradient></defs><rect x="34" y="104" width="419" height="106" fill="url(#bg9)"/><path d="M63.90,171.03 C72.52,169.21 98.37,158.91 115.60,160.12 C132.83,161.33 150.07,178.90 167.30,178.30 C184.53,177.69 201.77,157.09 219.00,156.49 C236.23,155.88 253.47,175.27 270.70,174.66 C287.93,174.05 305.17,153.15 322.40,152.85 C339.63,152.55 356.87,171.63 374.10,172.84 C391.33,174.05 417.18,162.24 425.80,160.12" transform="translate(0,9)" fill="none" stroke="#000" stroke-opacity="0.065" stroke-width="6" filter="url(#sh9)"/><path d="M63.90,189.20 C72.52,186.17 98.37,183.14 115.60,171.03 C132.83,158.91 150.07,114.08 167.30,116.50 C184.53,118.92 201.77,178.30 219.00,185.57 C236.23,192.84 253.47,163.76 270.70,160.12 C287.93,156.49 305.17,169.81 322.40,163.76 C339.63,157.70 356.87,131.04 374.10,123.77 C391.33,116.50 417.18,120.74 425.80,120.14" transform="translate(0,9)" fill="none" stroke="#000" stroke-opacity="0.065" stroke-width="6" filter="url(#sh9)"/><path d="M63.90,171.03 C72.52,169.21 98.37,158.91 115.60,160.12 C132.83,161.33 150.07,178.90 167.30,178.30 C184.53,177.69 201.77,157.09 219.00,156.49 C236.23,155.88 253.47,175.27 270.70,174.66 C287.93,174.05 305.17,153.15 322.40,152.85 C339.63,152.55 356.87,171.63 374.10,172.84 C391.33,174.05 417.18,162.24 425.80,160.12" fill="none" stroke="#c3c3c3" stroke-width="1.8"/><path d="M63.90,189.20 C72.52,186.17 98.37,183.14 115.60,171.03 C132.83,158.91 150.07,114.08 167.30,116.50 C184.53,118.92 201.77,178.30 219.00,185.57 C236.23,192.84 253.47,163.76 270.70,160.12 C287.93,156.49 305.17,169.81 322.40,163.76 C339.63,157.70 356.87,131.04 374.10,123.77 C391.33,116.50 417.18,120.74 425.80,120.14" fill="none" stroke="#bd5291" stroke-width="1.8"/><circle cx="63.90" cy="171.03" r="2.6" fill="#c3c3c3" stroke="#fff" stroke-width="0.9"/><circle cx="115.60" cy="160.12" r="2.6" fill="#c3c3c3" stroke="#fff" stroke-width="0.9"/><circle cx="167.30" cy="178.30" r="2.6" fill="#c3c3c3" stroke="#fff" stroke-width="0.9"/><circle cx="219.00" cy="156.49" r="2.6" fill="#c3c3c3" stroke="#fff" stroke-width="0.9"/><circle cx="270.70" cy="174.66" r="2.6" fill="#c3c3c3" stroke="#fff" stroke-width="0.9"/><circle cx="322.40" cy="152.85" r="2.6" fill="#c3c3c3" stroke="#fff" stroke-width="0.9"/><circle cx="374.10" cy="172.84" r="2.6" fill="#c3c3c3" stroke="#fff" stroke-width="0.9"/><circle cx="425.80" cy="160.12" r="2.6" fill="#c3c3c3" stroke="#fff" stroke-width="0.9"/><circle cx="63.90" cy="189.20" r="2.6" fill="#bd5291" stroke="#fff" stroke-width="0.9"/><circle cx="115.60" cy="171.03" r="2.6" fill="#bd5291" stroke="#fff" stroke-width="0.9"/><circle cx="167.30" cy="116.50" r="2.6" fill="#bd5291" stroke="#fff" stroke-width="0.9"/><circle cx="219.00" cy="185.57" r="2.6" fill="#bd5291" stroke="#fff" stroke-width="0.9"/><circle cx="270.70" cy="160.12" r="2.6" fill="#bd5291" stroke="#fff" stroke-width="0.9"/><circle cx="322.40" cy="163.76" r="2.6" fill="#bd5291" stroke="#fff" stroke-width="0.9"/><circle cx="374.10" cy="123.77" r="2.6" fill="#bd5291" stroke="#fff" stroke-width="0.9"/><circle cx="425.80" cy="120.14" r="2.6" fill="#bd5291" stroke="#fff" stroke-width="0.9"/><line x1="176" y1="93" x2="189" y2="93" stroke="#c3c3c3" stroke-width="1.5" stroke-dasharray="2 1.5"/><circle cx="182.5" cy="93" r="2" fill="#c3c3c3"/><line x1="249" y1="93" x2="262" y2="93" stroke="#bd5291" stroke-width="1.5" stroke-dasharray="2 1.5"/><circle cx="255.5" cy="93" r="2" fill="#bd5291"/></svg><div class="a" style="left:-73.2px;top:104.3999999999999px;font-size:6px;color:#c4c4c4;line-height:7.199999999999999px;width:200px;text-align:center;">230</div><div class="a" style="left:-73.2px;top:111.6699999999999px;font-size:6px;color:#c4c4c4;line-height:7.199999999999999px;width:200px;text-align:center;">210</div><div class="a" style="left:-73.2px;top:118.9399999999999px;font-size:6px;color:#c4c4c4;line-height:7.199999999999999px;width:200px;text-align:center;">190</div><div class="a" style="left:-73.2px;top:126.20999999999991px;font-size:6px;color:#c4c4c4;line-height:7.199999999999999px;width:200px;text-align:center;">170</div><div class="a" style="left:-73.2px;top:133.4799999999999px;font-size:6px;color:#c4c4c4;line-height:7.199999999999999px;width:200px;text-align:center;">150</div><div class="a" style="left:-73.2px;top:140.74999999999991px;font-size:6px;color:#c4c4c4;line-height:7.199999999999999px;width:200px;text-align:center;">130</div><div class="a" style="left:-73.2px;top:148.01999999999992px;font-size:6px;color:#c4c4c4;line-height:7.199999999999999px;width:200px;text-align:center;">110</div><div class="a" style="left:-73.2px;top:155.2899999999999px;font-size:6px;color:#c4c4c4;line-height:7.199999999999999px;width:200px;text-align:center;">90</div><div class="a" style="left:-73.2px;top:162.55999999999992px;font-size:6px;color:#c4c4c4;line-height:7.199999999999999px;width:200px;text-align:center;">70</div><div class="a" style="left:-73.2px;top:169.82999999999993px;font-size:6px;color:#c4c4c4;line-height:7.199999999999999px;width:200px;text-align:center;">50</div><div class="a" style="left:-73.2px;top:177.0999999999999px;font-size:6px;color:#c4c4c4;line-height:7.199999999999999px;width:200px;text-align:center;">30</div><div class="a" style="left:-73.2px;top:184.36999999999992px;font-size:6px;color:#c4c4c4;line-height:7.199999999999999px;width:200px;text-align:center;">10</div><div class="a" style="left:-73.2px;top:191.63999999999993px;font-size:6px;color:#c4c4c4;line-height:7.199999999999999px;width:200px;text-align:center;">-10</div><div class="a" style="left:-73.2px;top:198.9099999999999px;font-size:6px;color:#c4c4c4;line-height:7.199999999999999px;width:200px;text-align:center;">-30</div><div class="a" style="left:-73.2px;top:206.17999999999992px;font-size:6px;color:#c4c4c4;line-height:7.199999999999999px;width:200px;text-align:center;">-50</div><div class="a" style="left:-36.1px;top:217.325px;font-size:6.5px;color:#b0b0b0;line-height:7.8px;width:200px;text-align:center;">数据1</div><div class="a" style="left:15.599999999999994px;top:217.325px;font-size:6.5px;color:#b0b0b0;line-height:7.8px;width:200px;text-align:center;">数据2</div><div class="a" style="left:67.30000000000001px;top:217.325px;font-size:6.5px;color:#b0b0b0;line-height:7.8px;width:200px;text-align:center;">数据3</div><div class="a" style="left:119.00000000000003px;top:217.325px;font-size:6.5px;color:#b0b0b0;line-height:7.8px;width:200px;text-align:center;">数据4</div><div class="a" style="left:170.7px;top:217.325px;font-size:6.5px;color:#b0b0b0;line-height:7.8px;width:200px;text-align:center;">数据5</div><div class="a" style="left:222.39999999999998px;top:217.325px;font-size:6.5px;color:#b0b0b0;line-height:7.8px;width:200px;text-align:center;">数据6</div><div class="a" style="left:274.1px;top:217.325px;font-size:6.5px;color:#b0b0b0;line-height:7.8px;width:200px;text-align:center;">数据7</div><div class="a" style="left:325.8px;top:217.325px;font-size:6.5px;color:#b0b0b0;line-height:7.8px;width:200px;text-align:center;">数据8</div><div class="a" style="left:118.0px;top:60.0px;font-size:14px;color:#404040;line-height:16.8px;width:200px;text-align:center;">折线图数据分析工具</div><div class="a" style="left:189px;top:88.7px;font-size:10px;color:#404040;line-height:12px;">Series 1</div><div class="a" style="left:262px;top:88.7px;font-size:10px;color:#404040;line-height:12px;">Series 2</div>
<div class="bar"></div>
<div class="tt">折线图数据分析工具</div>
<svg class="logo" width="30" height="30" viewBox="-15 -15 30 30">
<defs><clipPath id="lc9"><rect x="-8" y="-8" width="6.8" height="16"/></clipPath></defs>
<circle r="12.9" fill="#b274b8"/>
<circle r="12.4" fill="none" stroke="#914c9b" stroke-width="1.1"/>
<circle r="10.6" fill="none" stroke="#dcaad8" stroke-width="1.5" stroke-dasharray="1.3 1.1" opacity="0.6"/>
<circle r="8.5" fill="#fff"/>
<circle r="8.6" fill="none" stroke="#914c9b" stroke-width="1"/>
<path d="M0.2,-2.2 C-1.3,-4.6 -5,-4 -4.8,-0.8 C-4.6,1.9 -1.9,3.7 0.4,4.9 C2.6,3.7 5.3,1.8 5.3,-0.8 C5.3,-4 1.6,-4.6 0.2,-2.2 Z" fill="#fff4f8" stroke="#e87aa8" stroke-width="2.1" stroke-linejoin="round"/>
<path d="M0.2,-2.2 C-1.3,-4.6 -5,-4 -4.8,-0.8 C-4.6,1.9 -1.9,3.7 0.4,4.9" fill="none" stroke="#f2c07e" stroke-width="2.1" clip-path="url(#lc9)"/>
<path d="M-2.4,0.2 C-1.2,1.8 1.4,1.6 2.6,-0.6" fill="none" stroke="#fff" stroke-width="0.9" stroke-linecap="round"/>
<circle cx="-0.6" cy="1.6" r="0.45" fill="#9a5070"/>
<ellipse cx="-0.9" cy="-5.3" rx="1.1" ry="0.8" fill="#cdbf5c"/>
</svg>
<div class="pn">50</div>
</div>
<div class="s" style="left:485px;top:1120px">
<svg width="475" height="270"><path d="M42.50,137.47 C55.70,132.32 95.28,104.86 121.67,106.53 C148.06,108.21 174.45,143.40 200.84,147.53 C227.23,151.65 266.81,133.99 280.01,131.28" fill="none" stroke="#d9d9d9" stroke-width="2.7" stroke-linecap="butt"/><path d="M42.50,143.66 C55.70,143.66 95.28,146.11 121.67,143.66 C148.06,141.21 174.45,136.70 200.84,128.96 C227.23,121.23 266.81,102.54 280.01,97.25" fill="none" stroke="#a6a6a6" stroke-width="2.7" stroke-linecap="butt"/><path d="M42.50,108.08 C55.70,112.72 95.28,133.99 121.67,135.92 C148.06,137.86 174.45,124.84 200.84,119.68 C227.23,114.52 266.81,107.43 280.01,104.98" fill="none" stroke="#c45a9c" stroke-width="2.7" stroke-linecap="butt"/></svg><div class="a" style="left:-65.39999999999998px;top:172.9249999999999px;font-size:6.5px;color:#595959;line-height:7.8px;width:200px;text-align:center;">0</div><div class="a" style="left:-65.39999999999998px;top:157.4549999999999px;font-size:6.5px;color:#595959;line-height:7.8px;width:200px;text-align:center;">1</div><div class="a" style="left:-65.39999999999998px;top:141.9849999999999px;font-size:6.5px;color:#595959;line-height:7.8px;width:200px;text-align:center;">2</div><div class="a" style="left:-65.39999999999998px;top:126.51499999999992px;font-size:6.5px;color:#595959;line-height:7.8px;width:200px;text-align:center;">3</div><div class="a" style="left:-65.39999999999998px;top:111.04499999999992px;font-size:6.5px;color:#595959;line-height:7.8px;width:200px;text-align:center;">4</div><div class="a" style="left:-65.39999999999998px;top:95.5749999999999px;font-size:6.5px;color:#595959;line-height:7.8px;width:200px;text-align:center;">5</div><div class="a" style="left:-65.39999999999998px;top:80.1049999999999px;font-size:6.5px;color:#595959;line-height:7.8px;width:200px;text-align:center;">6</div><div class="a" style="left:-56.5px;top:181.02500000000003px;font-size:6.5px;color:#595959;line-height:7.8px;width:200px;text-align:center;">NO.1</div><div class="a" style="left:22.67px;top:181.02500000000003px;font-size:6.5px;color:#595959;line-height:7.8px;width:200px;text-align:center;">NO.2</div><div class="a" style="left:101.84px;top:181.02500000000003px;font-size:6.5px;color:#595959;line-height:7.8px;width:200px;text-align:center;">NO.3</div><div class="a" style="left:181.01px;top:181.02500000000003px;font-size:6.5px;color:#595959;line-height:7.8px;width:200px;text-align:center;">NO.4</div><div class="a" style="left:51.299999999999955px;top:64.72499999999995px;font-size:8.5px;color:#404040;line-height:10.2px;width:200px;text-align:center;">输入图表标题</div><div class="a" style="left:34px;top:208.79999999999995px;font-size:7px;color:#4f4f4f;line-height:12.9px;">标题数字等都可以通过点击和重新输入进行更改，顶部<span class="qo">“</span>开始<span class="qc">”</span>面板中可以对字体、</div><div class="a" style="left:34px;top:221.70000000000005px;font-size:7px;color:#4f4f4f;line-height:12.9px;">字号、进行修改等编辑操作</div><div class="a" style="left:315.79999999999995px;top:71.50000000000004px;font-size:12px;color:#c45c9d;line-height:14px;font-weight:bold;-webkit-text-stroke:0.3px #c45c9d">点击此处添加标题</div><div class="a" style="left:315.79999999999995px;top:89.90000000000005px;font-size:6.9px;color:#4f4f4f;line-height:12.7px;">标题数字等都可以通过点击和重新输入进行</div><div class="a" style="left:315.79999999999995px;top:103.20000000000005px;font-size:6.9px;color:#4f4f4f;line-height:12.7px;">更改，顶部<span class="qo">“</span>开始<span class="qc">”</span>面板中可以对字体、字</div><div class="a" style="left:315.79999999999995px;top:115.30000000000004px;font-size:6.9px;color:#4f4f4f;line-height:12.7px;">号、进行修改等编辑操作</div><div class="a" style="left:315.79999999999995px;top:155.3px;font-size:12px;color:#c45c9d;line-height:14px;font-weight:bold;-webkit-text-stroke:0.3px #c45c9d">点击此处添加标题</div><div class="a" style="left:315.79999999999995px;top:173.7px;font-size:6.9px;color:#4f4f4f;line-height:12.7px;">标题数字等都可以通过点击和重新输入进行</div><div class="a" style="left:315.79999999999995px;top:187.0px;font-size:6.9px;color:#4f4f4f;line-height:12.7px;">更改，顶部<span class="qo">“</span>开始<span class="qc">”</span>面板中可以对字体、字</div><div class="a" style="left:315.79999999999995px;top:199.1px;font-size:6.9px;color:#4f4f4f;line-height:12.7px;">号、进行修改等编辑操作</div>
<div class="bar"></div>
<div class="tt">折线图表</div>
<svg class="logo" width="30" height="30" viewBox="-15 -15 30 30">
<defs><clipPath id="lc10"><rect x="-8" y="-8" width="6.8" height="16"/></clipPath></defs>
<circle r="12.9" fill="#b274b8"/>
<circle r="12.4" fill="none" stroke="#914c9b" stroke-width="1.1"/>
<circle r="10.6" fill="none" stroke="#dcaad8" stroke-width="1.5" stroke-dasharray="1.3 1.1" opacity="0.6"/>
<circle r="8.5" fill="#fff"/>
<circle r="8.6" fill="none" stroke="#914c9b" stroke-width="1"/>
<path d="M0.2,-2.2 C-1.3,-4.6 -5,-4 -4.8,-0.8 C-4.6,1.9 -1.9,3.7 0.4,4.9 C2.6,3.7 5.3,1.8 5.3,-0.8 C5.3,-4 1.6,-4.6 0.2,-2.2 Z" fill="#fff4f8" stroke="#e87aa8" stroke-width="2.1" stroke-linejoin="round"/>
<path d="M0.2,-2.2 C-1.3,-4.6 -5,-4 -4.8,-0.8 C-4.6,1.9 -1.9,3.7 0.4,4.9" fill="none" stroke="#f2c07e" stroke-width="2.1" clip-path="url(#lc10)"/>
<path d="M-2.4,0.2 C-1.2,1.8 1.4,1.6 2.6,-0.6" fill="none" stroke="#fff" stroke-width="0.9" stroke-linecap="round"/>
<circle cx="-0.6" cy="1.6" r="0.45" fill="#9a5070"/>
<ellipse cx="-0.9" cy="-5.3" rx="1.1" ry="0.8" fill="#cdbf5c"/>
</svg>
<div class="pn">51</div>
</div>
</body></html>
